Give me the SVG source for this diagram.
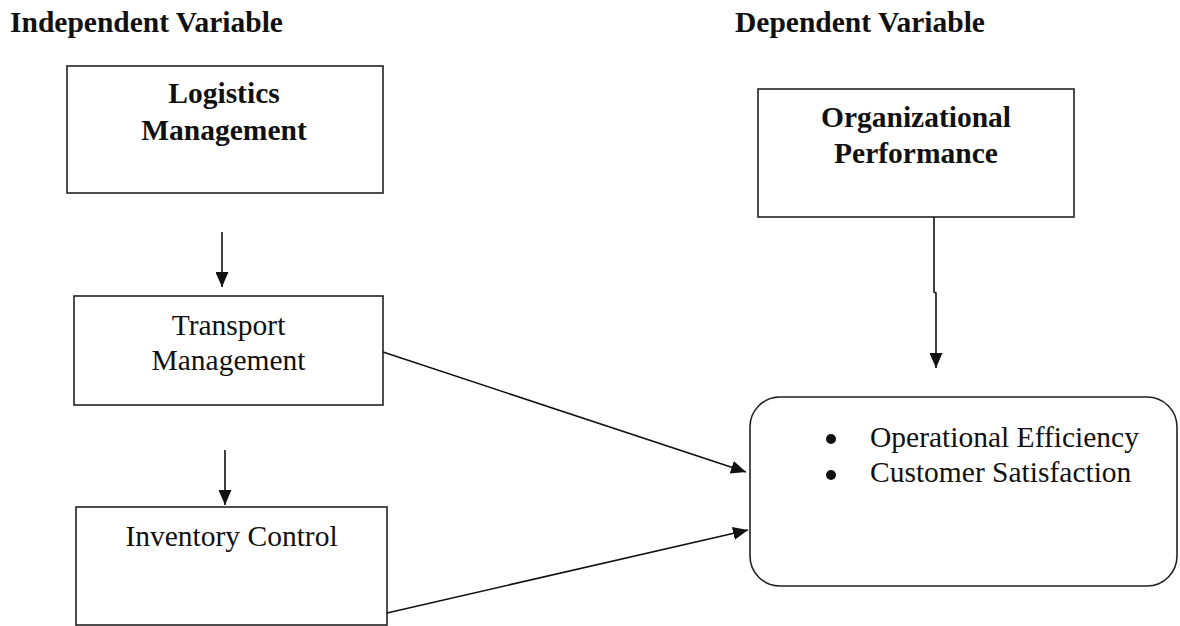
<svg xmlns="http://www.w3.org/2000/svg" width="1180" height="626" viewBox="0 0 1180 626">
  <style>
    .box { fill: #fff; stroke: #222; stroke-width: 1.6; }
    .bold { font-family: "Liberation Serif", "Times New Roman", serif; font-weight: bold; font-size: 29.5px; fill: #111; }
    .reg { font-family: "Liberation Serif", "Times New Roman", serif; font-size: 29.5px; fill: #111; }
    .conn { fill: none; stroke: #111; stroke-width: 1.6; }
  </style>
  <defs>
    <marker id="arrow" viewBox="0 0 15 13" refX="15" refY="6.5" markerWidth="15" markerHeight="13" markerUnits="userSpaceOnUse" orient="auto">
      <path d="M0,0 L15,6.5 L0,13 z" fill="#111"/>
    </marker>
  </defs>
  <rect width="1180" height="626" fill="#fff"/>

  <text class="bold" x="10" y="32">Independent Variable</text>
  <text class="bold" x="735" y="32">Dependent Variable</text>

  <g id="logistics">
    <rect class="box" x="67" y="66" width="316" height="127"/>
    <text class="bold" x="224" y="103" text-anchor="middle">Logistics</text>
    <text class="bold" x="224" y="140" text-anchor="middle">Management</text>
  </g>

  <g id="transport">
    <rect class="box" x="74" y="296" width="309" height="109"/>
    <text class="reg" x="228.5" y="335" text-anchor="middle">Transport</text>
    <text class="reg" x="228.5" y="370" text-anchor="middle">Management</text>
  </g>

  <g id="inventory">
    <rect class="box" x="76" y="507" width="311" height="118"/>
    <text class="reg" x="231.5" y="546" text-anchor="middle">Inventory Control</text>
  </g>

  <g id="orgperf">
    <rect class="box" x="758" y="89" width="316" height="128"/>
    <text class="bold" x="916" y="127" text-anchor="middle">Organizational</text>
    <text class="bold" x="916" y="163" text-anchor="middle">Performance</text>
  </g>

  <g id="outcomes">
    <rect class="box" x="750" y="397" width="427" height="189" rx="30" ry="30"/>
    <circle cx="831" cy="439" r="5" fill="#111"/>
    <circle cx="831" cy="475" r="5" fill="#111"/>
    <text class="reg" x="870" y="447">Operational Efficiency</text>
    <text class="reg" x="870" y="482">Customer Satisfaction</text>
  </g>

  <g id="connectors">
    <line class="conn" x1="222" y1="232" x2="222" y2="287" marker-end="url(#arrow)"/>
    <line class="conn" x1="225" y1="450" x2="225" y2="505" marker-end="url(#arrow)"/>
    <path class="conn" d="M934,217 L934,292 L936,293 L936,368" marker-end="url(#arrow)"/>
    <line class="conn" x1="383" y1="352" x2="746" y2="472" marker-end="url(#arrow)"/>
    <line class="conn" x1="387" y1="613" x2="748" y2="530" marker-end="url(#arrow)"/>
  </g>
</svg>
